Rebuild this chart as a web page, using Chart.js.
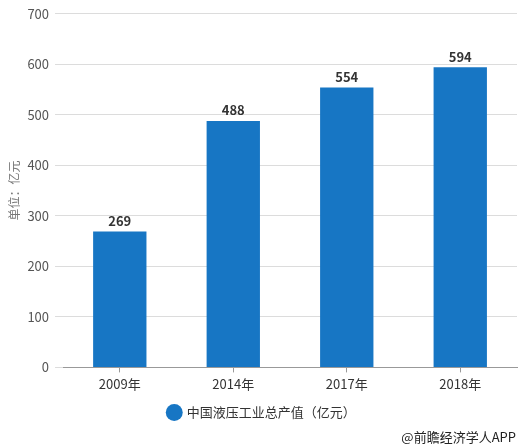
<!DOCTYPE html>
<html>
<head>
<meta charset="utf-8">
<script src="https://cdn.jsdelivr.net/npm/chart.js@4/dist/chart.umd.min.js"></script>
<style>
  html, body { margin: 0; padding: 0; background: #fff; }
  #wrap { position: relative; width: 522px; height: 447px; }
  #credit {
    position: absolute; right: 6px; top: 427px;
    font: 13px "Noto Sans CJK SC", sans-serif; color: #222;
  }
</style>
</head>
<body>
<div id="wrap">
  <canvas id="chart" width="522" height="447"></canvas>
  <div id="credit">@前瞻经济学人APP</div>
</div>
<script>
const CATEGORIES = ['2009年', '2014年', '2017年', '2018年'];
const VALUES = [269, 488, 554, 594];
const SERIES_NAME = '中国液压工业总产值（亿元）';
const Y_TITLE = '单位：亿元';

const FONT = '"Noto Sans CJK SC", "Noto Sans", sans-serif';

// значення над стовпцями
const valueLabels = {
    id: 'valueLabels',
    afterDatasetsDraw(chart) {
        const { ctx } = chart;
        const meta = chart.getDatasetMeta(0);
        ctx.save();
        ctx.font = 'bold 13px ' + FONT;
        ctx.fillStyle = '#333';
        ctx.textAlign = 'center';
        ctx.textBaseline = 'bottom';
        meta.data.forEach((bar, i) => {
            ctx.fillText(VALUES[i], bar.x, bar.y - 4);
        });
        ctx.restore();
    }
};

new Chart(document.getElementById('chart'), {
    type: 'bar',
    data: {
        labels: CATEGORIES,
        datasets: [{
            label: SERIES_NAME,
            data: VALUES,
            backgroundColor: '#1776c4',
            categoryPercentage: 1,
            barPercentage: 0.47
        }]
    },
    options: {
        responsive: false,
        animation: false,
        layout: { padding: { left: 7, right: 5, top: 6, bottom: 18 } },
        plugins: {
            legend: {
                position: 'bottom',
                labels: {
                    usePointStyle: true,
                    pointStyle: 'circle',
                    boxWidth: 12,
                    boxHeight: 12,
                    padding: 10,
                    color: '#333',
                    font: { family: FONT, size: 13 }
                }
            },
            tooltip: { enabled: false }
        },
        scales: {
            y: {
                min: 0,
                max: 700,
                ticks: {
                    stepSize: 100,
                    color: '#555',
                    padding: 6,
                    font: { family: FONT, size: 13 }
                },
                border: { display: false },
                grid: { color: '#dcdcdc', tickLength: 8 },
                title: {
                    display: true,
                    text: Y_TITLE,
                    color: '#777',
                    padding: { top: 0, bottom: 0 },
                    font: { family: FONT, size: 12 }
                }
            },
            x: {
                ticks: {
                    color: '#333',
                    padding: 4,
                    font: { family: FONT, size: 13 }
                },
                border: { display: true, color: '#999' },
                grid: {
                    display: true,
                    offset: false,
                    drawOnChartArea: false,
                    color: '#999',
                    tickLength: 5
                }
            }
        }
    },
    plugins: [valueLabels]
});
</script>
</body>
</html>
